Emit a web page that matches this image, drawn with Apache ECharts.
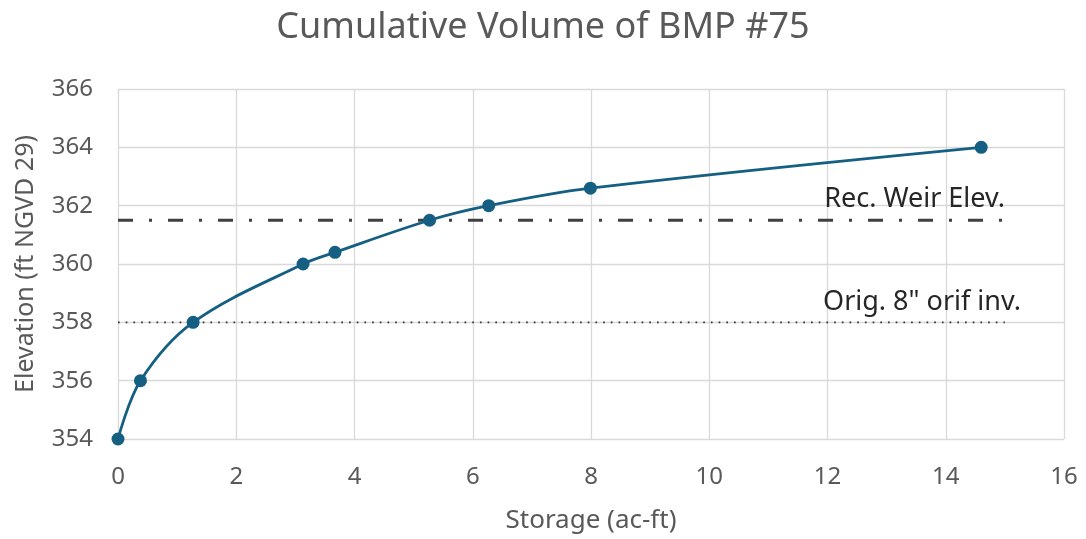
<!DOCTYPE html>
<html>
<head>
<meta charset="utf-8">
<script src="https://cdn.jsdelivr.net/npm/echarts@6/dist/echarts.min.js"></script>
<style>html,body{margin:0;padding:0;background:#fff;}#c{width:1086px;height:539px;}</style>
</head>
<body>
<div id="c"></div>
<script>
const storage = [0, 0.38, 1.27, 3.13, 3.67, 5.27, 6.27, 7.99, 14.6];
const elevation = [354, 356, 358, 360, 360.4, 361.5, 362, 362.6, 364];
const weirElev = 361.5;
const orificeElev = 358;
const refLineX = [0, 15];
const weirLabel = 'Rec. Weir Elev.';
const orificeLabel = 'Orig. 8" orif inv.';
const titleText = 'Cumulative Volume of BMP #75';
const xName = 'Storage (ac-ft)';
const yName = 'Elevation (ft NGVD 29)';

const FONT = '"Noto Sans", sans-serif';
const chart = echarts.init(document.getElementById('c'), null, {renderer: 'canvas'});
chart.setOption({
  animation: false,
  backgroundColor: '#ffffff',
  title: {
    text: titleText, left: 'center', top: 5,
    textStyle: {fontFamily: FONT, fontSize: 36, fontWeight: 'normal', color: '#595959'}
  },
  grid: {left: 118, right: 22, top: 89, bottom: 100, containLabel: false, outerBoundsMode: 'none'},
  xAxis: {
    type: 'value', min: 0, max: 16, interval: 2,
    name: xName, nameLocation: 'middle', nameGap: 69,
    nameTextStyle: {fontFamily: FONT, fontSize: 26, color: '#595959'},
    axisLine: {show: false}, axisTick: {show: false},
    axisLabel: {fontFamily: FONT, fontSize: 24, color: '#595959', margin: 26},
    splitLine: {show: true, lineStyle: {color: '#d9d9d9', width: 1.3}}
  },
  yAxis: {
    type: 'value', min: 354, max: 366, interval: 2,
    name: yName, nameLocation: 'middle', nameGap: 80,
    nameTextStyle: {fontFamily: FONT, fontSize: 25, color: '#595959'},
    axisLine: {show: false}, axisTick: {show: false},
    axisLabel: {fontFamily: FONT, fontSize: 24, color: '#595959', margin: 25},
    splitLine: {show: true, lineStyle: {color: '#d9d9d9', width: 1.3}}
  },
  series: [
    {
      type: 'line', silent: true, symbol: 'none',
      data: refLineX.map(x => [x, weirElev]),
      lineStyle: {color: '#404040', width: 3, type: [15, 16, 3, 16]},
      endLabel: {show: true, formatter: weirLabel, fontFamily: FONT, fontSize: 27, color: '#262626', align: 'right', verticalAlign: 'bottom', offset: [-8, -7]},
      z: 1
    },
    {
      type: 'line', silent: true, symbol: 'none',
      data: refLineX.map(x => [x, orificeElev]),
      lineStyle: {color: '#333333', width: 1.7, type: [1.7, 6]},
      endLabel: {show: true, formatter: orificeLabel, fontFamily: FONT, fontSize: 27, color: '#262626', align: 'right', verticalAlign: 'bottom', offset: [8, -7]},
      z: 1
    },
    {
      type: 'line', smooth: 0.35,
      data: storage.map((s, i) => [s, elevation[i]]),
      symbol: 'circle', symbolSize: 13,
      itemStyle: {color: '#156082'},
      lineStyle: {color: '#156082', width: 2.8},
      z: 3
    }
  ]
});
</script>
</body>
</html>
